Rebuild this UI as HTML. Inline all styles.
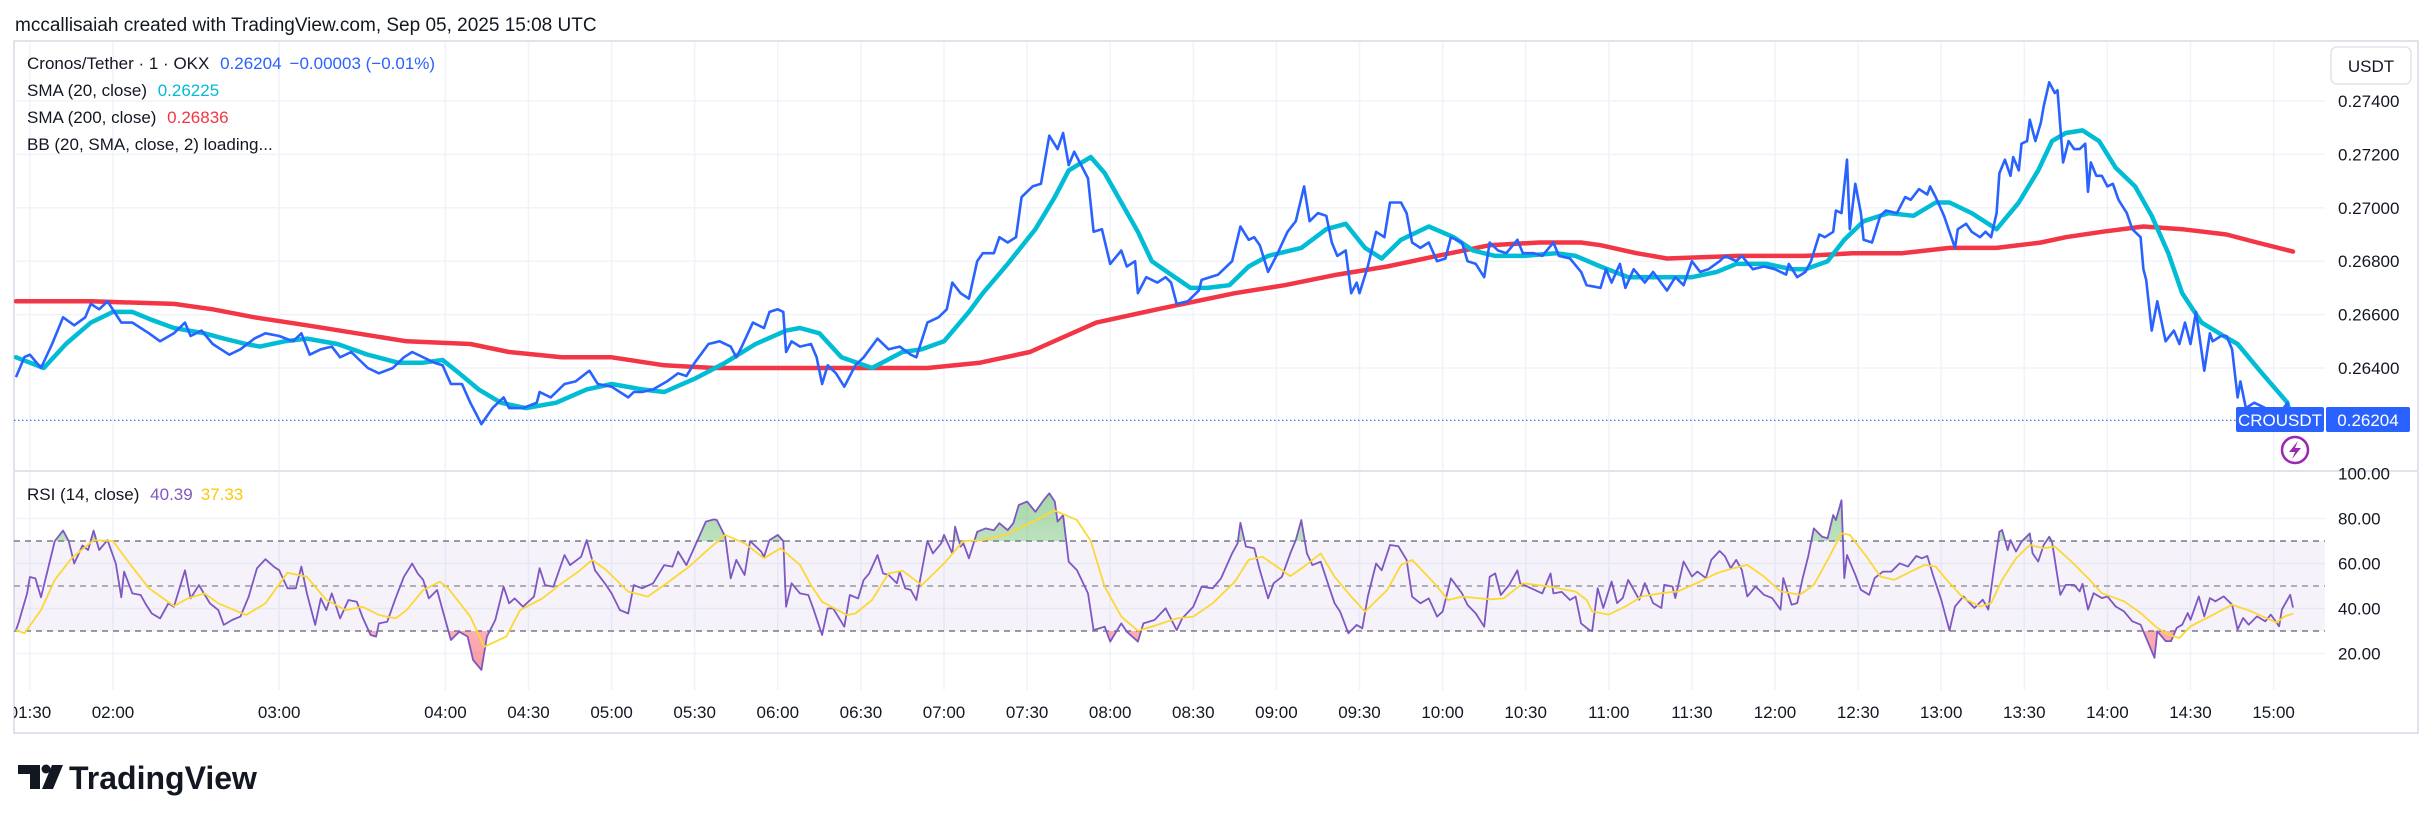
<!DOCTYPE html>
<html><head><meta charset="utf-8"><style>
html,body{margin:0;padding:0;background:#fff;}
svg{display:block;font-family:"Liberation Sans",sans-serif;}
</style></head><body>
<svg id="chart" width="2433" height="822" viewBox="0 0 2433 822" xmlns="http://www.w3.org/2000/svg">
<defs>
<clipPath id="paneClip"><rect x="14" y="42" width="2311" height="428"/></clipPath>
<clipPath id="rsiClip"><rect x="14" y="472" width="2311" height="218"/></clipPath>
<clipPath id="axisClip"><rect x="14" y="690" width="2311" height="42"/></clipPath>
<linearGradient id="gGreen" x1="0" y1="0" x2="0" y2="1"><stop offset="0" stop-color="#4caf50" stop-opacity="0.5"/><stop offset="1" stop-color="#4caf50" stop-opacity="0.02"/></linearGradient>
<linearGradient id="gRed" x1="0" y1="0" x2="0" y2="1"><stop offset="0" stop-color="#f23645" stop-opacity="0.02"/><stop offset="1" stop-color="#f23645" stop-opacity="0.5"/></linearGradient>
</defs>
<text x="15" y="31" font-size="19" fill="#131722">mccallisaiah created with TradingView.com, Sep 05, 2025 15:08 UTC</text>
<rect x="14" y="41" width="2404" height="692" fill="none" stroke="#e0e3eb" stroke-width="2"/>
<g id="grid"></g>
<rect x="14" y="541" width="2311" height="90" fill="#7e57c2" fill-opacity="0.08"/>
<g id="price" clip-path="url(#paneClip)"></g>
<g id="rsi" clip-path="url(#rsiClip)"></g>
<line x1="14" y1="471" x2="2418" y2="471" stroke="#e0e3eb" stroke-width="2"/>
<g id="axes"></g>
<g font-size="17" fill="#131722">
<text x="27" y="69">Cronos/Tether · 1 · OKX <tspan fill="#2962ff" dx="6">0.26204</tspan><tspan fill="#2962ff" dx="8">−0.00003 (−0.01%)</tspan></text>
<text x="27" y="96">SMA (20, close) <tspan fill="#00bcd4" dx="6">0.26225</tspan></text>
<text x="27" y="123">SMA (200, close) <tspan fill="#f23645" dx="6">0.26836</tspan></text>
<text x="27" y="150">BB (20, SMA, close, 2) loading...</text>
<text x="27" y="500">RSI (14, close) <tspan fill="#7e57c2" dx="6">40.39</tspan><tspan fill="#f9c80e" dx="8">37.33</tspan></text>
</g>
<g>
<rect x="2331" y="47" width="80" height="37" rx="6" fill="#fff" stroke="#e0e3eb" stroke-width="1.5"/>
<text x="2371" y="72" font-size="17" text-anchor="middle" fill="#131722">USDT</text>
</g>
<g>
<rect x="2236" y="407" width="88" height="25" rx="2" fill="#2962ff"/>
<text x="2280" y="426" font-size="17" text-anchor="middle" fill="#fff">CROUSDT</text>
<rect x="2326" y="407" width="84" height="25" rx="2" fill="#2962ff"/>
<text x="2368" y="426" font-size="17" text-anchor="middle" fill="#fff">0.26204</text>
</g>
<g>
<circle cx="2295" cy="450" r="13" fill="#fff" stroke="#9c27b0" stroke-width="2.5"/>
<path d="M2298 441 L2289 452 L2295 452 L2292 459 L2301 448 L2295 448 Z" fill="#9c27b0"/>
</g>
<g>
<path d="M18 765 H40 V789 H30 V774 H18 Z" fill="#131722"/>
<circle cx="46" cy="769" r="4.5" fill="#131722"/>
<path d="M52 765 H63 L53 789 H42 Z" fill="#131722"/>
<text x="69" y="789" font-size="32" font-weight="bold" fill="#131722">TradingView</text>
</g>
<script>
// ---- data ----
const timeTickLabels=["01:30","02:00","03:00","04:00","04:30","05:00","05:30","06:00","06:30","07:00","07:30","08:00","08:30","09:00","09:30","10:00","10:30","11:00","11:30","12:00","12:30","13:00","13:30","14:00","14:30","15:00"];
const timeTickMinutes=[90,120,180,240,270,300,330,360,390,420,450,480,510,540,570,600,630,660,690,720,750,780,810,840,870,900];
const priceTicks=[0.274,0.272,0.270,0.268,0.266,0.264];
const rsiTicks=[100,80,60,40,20];
const rsiLevels=[70,50,30];
const priceT=[85,88,90,94,98,102,106,110,112,115,118,123,127,133,137,142,146,148,152,156,162,166,171,175,180,185,188,191,195,199,202,206,212,216,221,225,228,232,236,239,242,246,249,251,253,257,261,263,268,273,274,278,283,287,292,295,300,306,308,311,315,320,324,327,330,335,339,343,345,347,351,355,357,360,362,363,365,368,372,374,376,378,381,384,388,391,396,400,404,408,410,414,418,421,423,426,429,432,434,438,440,443,446,448,452,455,456,458,461,463,465,467,472,474,477,480,484,486,489,490,493,497,500,502,504,508,512,513,519,524,527,530,532,534,537,540,544,547,550,552,555,558,560,562,565,567,569,570,573,576,579,581,585,587,589,592,595,598,601,603,607,609,612,615,617,620,623,627,629,633,636,640,642,646,650,652,657,659,661,664,666,669,673,676,681,684,687,690,693,696,700,702,706,708,712,716,720,724,725,728,731,733,736,738,741,742,744,746,747,749,751,752,755,758,760,764,767,769,772,775,776,778,781,785,786,789,791,794,796,798,800,801,803,805,806,808,809,811,812,814,816,817,819,821,822,824,826,828,830,832,833,834,836,838,840,842,844,847,849,852,853,854,856,858,861,864,866,868,870,872,875,877,878,881,883,885,887,888,890,893,897,901,905,906];
const priceV=[.26366,.26441,.2645,.2640,.2649,.2659,.2656,.2659,.2664,.2662,.2665,.2657,.2657,.2653,.2650,.2653,.2657,.2652,.2654,.2649,.2645,.2647,.2651,.2653,.2652,.2650,.2653,.2645,.2647,.2648,.2644,.2646,.2640,.2638,.2640,.2644,.2646,.2644,.2642,.2641,.2634,.2634,.2627,.2623,.2619,.2625,.2629,.2625,.2625,.2627,.2631,.2629,.2634,.2635,.2639,.2634,.2633,.2629,.2631,.2631,.2632,.2635,.2638,.2637,.2642,.2649,.2650,.2648,.2644,.2648,.2657,.2655,.2661,.2662,.2661,.2646,.2650,.2648,.2649,.2644,.2634,.2641,.2638,.2633,.2641,.2644,.2651,.2647,.2648,.2645,.2644,.2657,.2659,.2662,.2672,.2668,.2666,.2680,.2683,.2683,.2689,.2687,.2689,.2704,.2708,.2709,.2715,.2727,.2722,.2728,.2716,.2721,.2711,.2691,.2692,.2679,.2684,.2678,.2680,.2668,.2674,.2672,.2674,.2672,.2664,.2665,.2669,.2673,.2675,.2680,.2693,.2688,.2689,.2686,.2676,.2682,.2691,.2695,.2708,.2695,.2698,.2697,.2687,.2682,.2684,.2668,.2672,.2668,.2678,.2691,.2689,.2702,.2702,.2698,.2687,.2685,.2687,.2680,.2681,.2689,.2687,.2680,.2679,.2674,.2687,.2684,.2683,.2688,.2683,.2683,.2682,.2687,.2682,.2681,.2676,.2671,.2670,.2677,.2672,.2679,.2670,.2677,.2672,.2676,.2669,.2674,.2671,.2680,.2676,.2677,.2680,.2682,.2680,.2682,.2677,.2678,.2677,.2675,.2679,.2674,.2676,.2680,.2690,.2689,.2691,.2699,.2698,.2718,.2692,.2709,.2698,.2688,.2687,.2697,.2699,.2698,.2704,.2703,.2707,.2705,.2708,.2704,.2697,.2685,.2692,.2694,.2691,.2689,.2691,.2689,.2698,.2713,.2718,.2712,.2719,.2714,.2724,.2725,.2733,.2725,.2732,.2738,.2747,.2743,.2744,.2717,.2725,.2722,.2722,.2724,.2706,.2717,.2712,.2712,.2708,.2709,.2703,.2698,.2692,.2689,.2677,.2673,.2654,.2665,.2650,.2654,.2649,.2657,.2649,.2661,.2639,.2653,.2650,.2652,.2652,.2647,.2629,.2635,.2625,.2627,.2625,.2621,.2627,.26204];
const sma20T=[85,95,103,112,120,127,134,142,153,160,168,173,182,190,201,212,223,232,239,245,252,260,269,280,291,300,311,319,330,341,352,363,368,375,383,394,405,412,420,429,434,443,453,460,465,473,478,484,490,495,502,509,515,523,530,537,549,558,565,572,578,585,595,604,611,619,629,641,648,657,667,677,690,699,706,717,726,731,739,745,752,761,770,778,783,791,800,808,815,820,825,831,837,843,850,856,862,867,874,882,887,895,905,906];
const sma20V=[.2644,.2640,.2649,.2657,.2661,.2661,.2658,.2655,.2653,.2651,.2649,.2648,.2650,.2651,.2649,.2645,.2642,.2642,.2643,.2638,.2632,.2627,.2625,.2627,.2632,.2634,.2632,.2631,.2636,.2642,.2649,.2654,.2655,.2653,.2644,.2640,.2646,.2647,.2650,.2661,.2668,.2679,.2692,.2704,.2714,.2719,.2713,.2702,.2691,.2680,.2675,.2670,.2670,.2671,.2678,.2682,.2685,.2692,.2694,.2685,.2681,.2688,.2693,.2689,.2684,.2682,.2682,.2683,.2682,.2678,.2674,.2674,.2674,.2676,.2679,.2679,.2677,.2677,.2680,.2688,.2695,.2698,.2697,.2702,.2702,.2698,.2692,.2702,.2714,.2725,.2728,.2729,.2725,.2715,.2708,.2697,.2683,.2668,.2657,.2652,.2649,.2639,.2627,.26225];
const sma200T=[85,112,142,156,171,190,208,226,249,263,282,300,319,337,368,386,414,433,451,464,475,497,525,543,562,580,598,617,635,650,657,670,681,707,731,748,766,783,800,816,825,838,853,867,883,894,907];
const sma200V=[.2665,.2665,.2664,.2662,.2659,.2656,.2653,.2650,.2649,.2646,.2644,.2644,.2641,.2640,.2640,.2640,.2640,.2642,.2646,.2652,.2657,.2662,.2668,.2671,.2675,.2678,.2682,.2686,.2687,.2687,.2686,.2683,.2681,.2682,.2682,.2683,.2683,.2685,.2685,.2687,.2689,.2691,.2693,.2692,.2690,.2687,.26836];
const rsiT=[85,86,89,90,92,94,97,99,102,104,106,109,111,113,115,118,121,123,124,127,130,132,134,137,140,142,146,148,151,155,158,160,163,166,169,172,175,178,180,183,186,188,190,193,195,197,199,202,205,208,210,213,215,216,219,222,225,228,230,232,234,237,239,242,245,248,250,253,255,258,261,263,265,268,272,274,276,279,283,285,289,291,294,298,300,303,306,308,311,315,319,322,324,327,330,334,337,338,341,343,345,348,350,354,355,357,360,362,363,365,368,371,373,376,378,380,384,386,389,391,393,396,398,400,403,404,406,408,410,414,416,419,420,423,424,426,427,429,432,435,438,440,443,445,447,450,453,456,458,460,461,463,465,468,472,474,478,480,484,486,490,492,496,500,504,506,510,513,517,520,524,526,527,529,532,534,537,539,542,545,547,549,551,553,556,559,561,563,566,569,571,573,576,578,581,584,587,589,592,595,598,600,603,607,609,612,615,617,619,621,624,627,628,632,636,639,640,643,646,648,650,653,654,656,658,661,663,665,667,671,673,676,679,680,683,684,687,690,692,695,697,700,702,704,706,708,710,713,716,719,722,723,726,728,730,732,734,737,739,741,742,744,745,746,749,751,754,756,759,762,765,768,771,773,775,777,780,783,785,788,792,795,797,799,801,802,804,805,807,809,812,813,815,817,819,820,823,825,828,830,831,833,835,838,840,843,846,849,852,854,857,858,861,863,865,867,869,870,873,875,877,879,882,885,887,889,891,894,897,899,902,903,906,907];
const rsiV=[30.4,34,46.7,54,53.4,45,60,70,74.6,70,60,68,66,74.6,66,70.4,60,45,56.4,46.7,46,41.6,37.8,35.6,42.3,40.8,57,44.5,50.4,42.3,39.3,32.7,34.9,36.4,45.3,57.9,61.9,58.6,57,49,49,58.6,46.7,32.7,44.5,39.3,46.7,35.6,43.8,43,36.4,28.2,27.5,33.4,34.1,44.5,54.1,60,55.6,52.7,44.5,48.2,39.3,26,29.7,27.5,17.1,12.7,27.5,34.9,49.7,42.3,44.5,40.8,45.3,57.9,50.4,49.7,63.8,59.3,63,70.4,57,50.4,46.7,39.3,37.8,50.4,49,51.2,59.3,58.6,65.3,59.3,67.5,78.6,79.6,79.3,71.9,53.4,61.6,54.9,70,65.3,63,70.4,72.7,70,40.8,51.2,46.7,46,39.3,28.2,40,40,31.9,46,44.5,52.7,55.6,63.8,55.6,54.9,51.2,56.4,49,48.2,43.8,70,64.5,69,72.7,64.5,76.4,67.5,69,62.3,74.1,75.6,74.8,77.9,74.8,77.9,86,87.5,83,88.2,91.2,87.5,78.6,81.5,60.8,57,46.7,30.4,31.9,25.3,33.4,29.7,25.3,33.4,34.9,40.1,30.4,35.6,40.8,49.7,49,53.4,64.5,69,78.1,67.5,66.8,57.1,44.5,51.2,54.1,64.5,70.4,79.3,64.5,59.3,60.8,49.7,42.3,38.6,29,32.7,31.2,45.3,60,57,68.2,67.7,61.6,45.3,42.3,44.5,36.4,38.6,53.4,46.7,41.6,37.8,31.9,54.1,55.6,46,50.4,57,51.2,49,46.7,55.6,46.7,47.4,43.8,45.3,33.4,30.4,30,49,40.2,52,42.4,44.6,52.7,43.9,51.3,42.4,40.2,50.5,49.8,44.6,60.9,54.2,56.4,53.5,61.6,65.6,63.1,57.9,61.6,57.2,45.4,49.8,46.1,44.6,39.5,53.5,41.7,42.4,53.5,63.1,75.6,71.9,71.2,81.5,79.3,88.1,53.5,63.8,55,48.3,46.1,53.5,56.4,56.4,60.1,58.6,63.4,62.3,63.4,55,43.9,30.2,40.9,45.4,40.2,43.9,39.5,57.2,74.1,74.9,66,70.4,65.3,69.7,73.4,64.5,60.9,68.2,71.9,69.7,46.1,50.5,50.5,47.6,51,39.5,46.8,44.6,45.4,40.9,38.7,34.3,32.8,26.9,18.1,29.9,25.5,25.5,31.4,32.8,38,35,45.4,36.5,44.6,43.2,45.4,41.7,30.6,35.8,32.8,36.5,34.3,37.3,32.1,39.5,46.1,40.4];
const rsiMaT=[85,88,94,99,105,113,120,125,133,142,147,153,158,168,175,183,190,197,204,210,216,222,226,232,238,241,249,254,262,267,275,282,288,293,298,306,313,319,328,334,341,348,355,361,368,372,376,385,388,394,400,405,412,420,427,434,442,451,460,468,473,478,484,490,497,504,510,517,525,530,535,541,545,550,556,561,567,572,580,585,589,597,602,607,617,622,629,639,648,652,654,660,666,672,679,685,693,699,705,710,716,722,729,734,739,744,747,753,758,763,769,774,778,782,788,794,798,802,807,812,817,821,827,833,838,846,852,858,862,866,870,877,885,892,896,901,904,907];
const rsiMaV=[30.4,29,39.3,52.7,62.3,70.4,70,61.6,49,41.1,44.5,46.7,42.3,37.1,42.3,55.9,54.1,43.8,39.3,40.8,37.1,35.6,39.3,48.2,51.9,49,36.4,23,27.5,39.3,44.5,51.2,56.4,61.6,57.1,47.5,45.3,50.4,58.6,65.3,72.7,69,62.3,66.8,59.3,50.4,43,37.1,37.8,43.8,55.6,56.8,50.4,60,70,70.4,72.7,77.9,83.5,79.3,70,49.7,36.4,30.1,32.7,35.6,36.4,42.3,51.9,61.6,63,57.9,54.4,58.6,64.5,54.1,45.3,38.6,48.2,59.3,61.6,51.2,43.8,45.3,44.1,44.5,51.2,49.7,47.5,43.8,38.7,37.3,40.9,45.4,46.8,47.6,52,55.7,57.9,59.4,54.2,47.6,46.1,50.5,61.6,73.4,72.7,63.1,54.2,52.7,56.4,59.4,58.6,52.7,44.6,40.9,42.4,52.7,62.3,68.2,66.8,67.5,60.9,53.5,46.8,43.2,38,31.4,28.4,26.9,32.1,36.5,41.7,38.7,36.5,33.8,36.5,37.7];

// ---- scales ----
const NS="http://www.w3.org/2000/svg";
function xS(m){return 113+(m-120)*2.77;}
function yP(p){return 101+(0.274-p)*26700;}
function yR(v){return 541+(70-v)*2.25;}
function mk(tag,attrs,parent){const e=document.createElementNS(NS,tag);for(const k in attrs)e.setAttribute(k,attrs[k]);parent.appendChild(e);return e;}
function pathD(T,V,yf){return T.map((t,i)=>(i?"L":"M")+xS(t).toFixed(1)+" "+yf(V[i]).toFixed(1)).join(" ");}

const grid=document.getElementById('grid');
const axes=document.getElementById('axes');
timeTickMinutes.forEach((m,i)=>{
  const x=xS(m);
  const gl=mk('line',{x1:x,y1:42,x2:x,y2:690,stroke:'#f0f3fa','stroke-width':1.5},grid);
  
  
  const t=mk('text',{x:x,y:718,'font-size':17,'text-anchor':'middle',fill:'#131722','clip-path':'url(#axisClip)'},axes);
  t.textContent=timeTickLabels[i];
  
  
});
priceTicks.forEach(p=>{
  const y=yP(p);
  const gl=mk('line',{x1:14,y1:y,x2:2325,y2:y,stroke:'#f0f3fa','stroke-width':1.5},grid);
  
  
  const t=mk('text',{x:2338,y:y+6,'font-size':17,fill:'#131722'},axes);
  t.textContent=p.toFixed(5);
  
  
});
rsiTicks.forEach(v=>{
  const y=yR(v);
  if(v<100){const gl=mk('line',{x1:14,y1:y,x2:2325,y2:y,stroke:'#f0f3fa','stroke-width':1.5},grid);
  
  }
  const t=mk('text',{x:2338,y:y+6,'font-size':17,fill:'#131722'},axes);
  t.textContent=v.toFixed(2);
  
  
});
const pg=document.getElementById('price');
const lastY=yP(priceV[priceV.length-1]);
const dl=mk('line',{x1:14,y1:lastY,x2:2236,y2:lastY,stroke:'#2962ff','stroke-width':1.2,'stroke-dasharray':'1.5 2.5'},pg);


const s200=mk('path',{d:pathD(sma200T,sma200V,yP),fill:'none',stroke:'#f23645','stroke-width':4.5,'stroke-linejoin':'round','stroke-linecap':'round'},pg);


const s20=mk('path',{d:pathD(sma20T,sma20V,yP),fill:'none',stroke:'#00bcd4','stroke-width':4.5,'stroke-linejoin':'round','stroke-linecap':'round'},pg);


const pl=mk('path',{d:pathD(priceT,priceV,yP),fill:'none',stroke:'#2962ff','stroke-width':2.6,'stroke-linejoin':'round'},pg);


const rg=document.getElementById('rsi');
rsiLevels.forEach(v=>{
  const y=yR(v);
  const l=mk('line',{x1:14,y1:y,x2:2325,y2:y,stroke:v===50?'#9598a1':'#787b86','stroke-width':1.5,'stroke-dasharray':'6 5'},rg);
  
  
});
const x0=xS(rsiT[0]), x1=xS(rsiT[rsiT.length-1]);
const rp=pathD(rsiT,rsiV,yR);
const defs=document.querySelector('defs');
const c1=mk('clipPath',{id:'obClip'},defs); mk('rect',{x:0,y:0,width:2433,height:yR(70)},c1);
const c2=mk('clipPath',{id:'osClip'},defs); mk('rect',{x:0,y:yR(30),width:2433,height:300},c2);
const ob=mk('path',{d:rp+` L${x1} ${yR(70)} L${x0} ${yR(70)} Z`,fill:'url(#gGreen)','clip-path':'url(#obClip)'},rg);


const os=mk('path',{d:rp+` L${x1} ${yR(30)} L${x0} ${yR(30)} Z`,fill:'url(#gRed)','clip-path':'url(#osClip)'},rg);


const rl=mk('path',{d:rp,fill:'none',stroke:'#7e57c2','stroke-width':1.8,'stroke-linejoin':'round'},rg);


const ml=mk('path',{d:pathD(rsiMaT,rsiMaV,yR),fill:'none',stroke:'#fdd835','stroke-width':1.8,'stroke-linejoin':'round'},rg);


</script>
</svg>
</body></html>
